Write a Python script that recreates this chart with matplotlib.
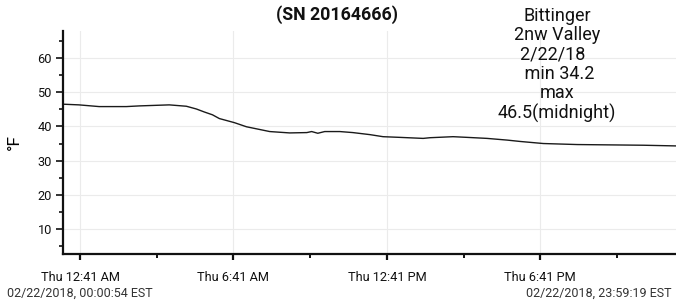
import matplotlib
matplotlib.use("Agg")
import matplotlib.pyplot as plt
from matplotlib.ticker import FixedLocator, MultipleLocator

plt.rcParams['font.family'] = ['Roboto', 'DejaVu Sans']

# hours since midnight 2/22/2018 and temperature (°F)
hours = [0.015, 0.64, 1.43, 2.49, 3.0, 3.78, 4.17, 4.84, 5.23, 5.55, 5.86, 6.13,
         6.72, 7.19, 8.1, 8.88, 9.55, 9.74, 9.98, 10.25, 10.84, 11.35, 12.02,
         12.53, 13.19, 14.1, 14.37, 15.27, 15.82, 16.6, 17.39, 17.9, 18.8,
         20.13, 21.43, 22.72, 23.99]
temps = [46.5, 46.3, 45.8, 45.8, 46.0, 46.2, 46.3, 45.9, 45.1, 44.2, 43.4, 42.3,
         41.1, 39.9, 38.5, 38.1, 38.2, 38.5, 38.0, 38.5, 38.5, 38.2, 37.6,
         37.0, 36.8, 36.5, 36.7, 37.0, 36.8, 36.5, 36.0, 35.6, 35.0,
         34.7, 34.6, 34.5, 34.3]

tick_hours = [0.683, 6.683, 12.683, 18.683]
tick_labels = ["Thu 12:41 AM", "Thu 6:41 AM", "Thu 12:41 PM", "Thu 6:41 PM"]
minor_hours = [3.683, 9.683, 15.683, 21.683]
yticks = [10, 20, 30, 40, 50, 60]

fig = plt.figure(figsize=(6.76, 3.06), dpi=100)
ax = fig.add_axes([63 / 676, 1 - 254 / 306, 1 - 63 / 676, (254 - 31) / 306])

ax.plot(hours, temps, color="#1a1a1a", lw=1.0)

ax.set_xlim(0.015, 23.989)
ax.set_ylim(2.7, 67.9)
ax.xaxis.set_major_locator(FixedLocator(tick_hours))
ax.xaxis.set_minor_locator(FixedLocator(minor_hours))
ax.set_xticklabels(tick_labels)
ax.yaxis.set_major_locator(FixedLocator(yticks))
ax.yaxis.set_minor_locator(MultipleLocator(5))

ax.grid(True, which="major", color="#ebebeb", lw=0.8)
ax.set_axisbelow(True)
for s in ["top", "right"]:
    ax.spines[s].set_visible(False)
for s in ["left", "bottom"]:
    ax.spines[s].set_linewidth(1.6)
    ax.spines[s].set_color("#111111")

ax.tick_params(axis="x", which="major", length=4, width=1.6, labelsize=9.2,
               colors="#111111", pad=8)
ax.tick_params(axis="x", which="minor", length=3, width=1.4, colors="#111111")
ax.tick_params(axis="y", which="major", length=5, width=1.2, labelsize=9.2,
               colors="#111111", pad=3)
ax.tick_params(axis="y", which="minor", length=3, width=1.2, colors="#111111")
ax.set_ylabel("°F", fontsize=12.5, labelpad=11)

fig.text(337 / 676, 1 - 15 / 306, "(SN 20164666)", fontsize=12.8, fontweight="bold",
         ha="center", va="center", color="#111111")
fig.text(557 / 676, 1 - 7 / 306,
         "Bittinger\n2nw Valley\n2/22/18  \n min 34.2\nmax\n46.5(midnight)",
         fontsize=13, ha="center", va="top", color="#111111", linespacing=1.09)
fig.text(7 / 676, 1 - 293 / 306, "02/22/2018, 00:00:54 EST", fontsize=9,
         ha="left", va="center", color="#333333")
fig.text(672 / 676, 1 - 293 / 306, "02/22/2018, 23:59:19 EST", fontsize=9,
         ha="right", va="center", color="#333333")

fig.savefig("out.png", dpi=100)
